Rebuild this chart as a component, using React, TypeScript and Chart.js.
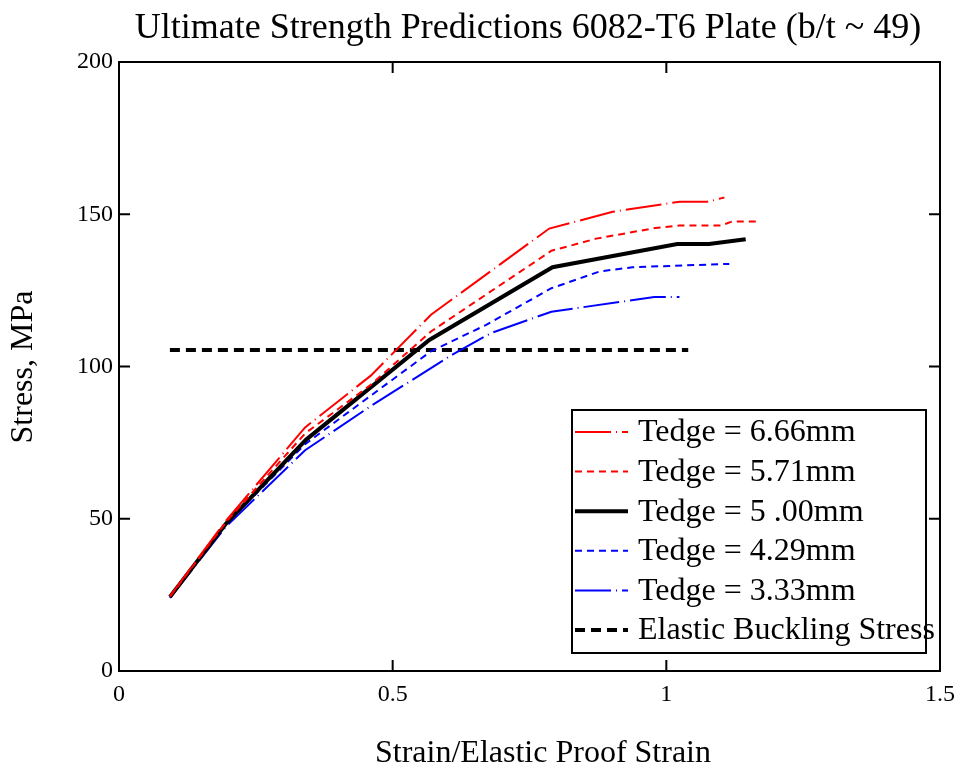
import React, { useEffect, useRef } from "react";
import { Chart, registerables } from "chart.js";
Chart.register(...registerables);

const titleText = "Ultimate Strength Predictions 6082-T6 Plate (b/t ~ 49)";
const xTitle = "Strain/Elastic Proof Strain";
const yTitle = "Stress, MPa";

const seriesLabels = [
  "Tedge = 6.66mm",
  "Tedge = 5.71mm",
  "Tedge = 5 .00mm",
  "Tedge = 4.29mm",
  "Tedge = 3.33mm",
  "Elastic Buckling Stress",
];

const x666 = [0.093, 0.196, 0.34, 0.46, 0.57, 0.786, 0.902, 1.024, 1.075, 1.106];
const y666 = [24.5, 49.5, 80, 97, 117, 145.3, 150.8, 154.1, 154.1, 155.5];

const x571 = [0.093, 0.196, 0.34, 0.46, 0.57, 0.79, 0.872, 0.98, 1.024, 1.1, 1.12, 1.164];
const y571 = [24.4, 49, 78, 94, 111.5, 138, 142, 145.5, 146.3, 146.3, 147.6, 147.6];

const x500 = [0.093, 0.196, 0.342, 0.567, 0.792, 1.02, 1.078, 1.145];
const y500 = [24.3, 48.5, 76, 108.7, 132.6, 140.2, 140.2, 141.8];

const x429 = [0.093, 0.196, 0.34, 0.57, 0.67, 0.79, 0.878, 0.938, 1.115];
const y429 = [24.2, 48.3, 74.5, 105, 113.6, 125.7, 131.2, 132.6, 133.7];

const x333 = [0.093, 0.196, 0.34, 0.46, 0.61, 0.68, 0.79, 0.978, 1.024];
const y333 = [24, 47.5, 72.5, 87, 104, 111, 118, 122.8, 122.8];

const xBuckle = [0.093, 1.04];
const yBuckle = [105.4, 105.4];

const xTicks = [0, 0.5, 1, 1.5];
const xTickLabels = ["0", "0.5", "1", "1.5"];
const yTicks = [0, 50, 100, 150, 200];
const yTickLabels = ["0", "50", "100", "150", "200"];

const pts = (xs: number[], ys: number[]) => xs.map((x, i) => ({ x, y: ys[i] }));

const SERIF = "'Liberation Serif', 'Times New Roman', serif";

const styles = [
  { color: "#ff0000", width: 2, dash: [36, 5, 1, 5] },
  { color: "#ff0000", width: 2, dash: [7, 5] },
  { color: "#000000", width: 4, dash: [] as number[] },
  { color: "#0000ff", width: 2, dash: [7, 5] },
  { color: "#0000ff", width: 2, dash: [36, 5, 1, 5] },
  { color: "#000000", width: 4, dash: [10, 6] },
];

const decorPlugin = {
  id: "decor",
  afterDraw(chart: any) {
    const ctx = chart.ctx as CanvasRenderingContext2D;
    const a = chart.chartArea;
    const xs = chart.scales.x;
    const ys = chart.scales.y;
    ctx.save();
    // frame
    ctx.strokeStyle = "#000";
    ctx.lineWidth = 2;
    ctx.setLineDash([]);
    ctx.strokeRect(a.left, a.top, a.right - a.left, a.bottom - a.top);
    // inward ticks
    const tl = 11;
    ctx.beginPath();
    xTicks.forEach((v) => {
      const px = xs.getPixelForValue(v);
      ctx.moveTo(px, a.bottom);
      ctx.lineTo(px, a.bottom - tl);
      ctx.moveTo(px, a.top);
      ctx.lineTo(px, a.top + tl);
    });
    yTicks.forEach((v) => {
      const py = ys.getPixelForValue(v);
      ctx.moveTo(a.left, py);
      ctx.lineTo(a.left + tl, py);
      ctx.moveTo(a.right, py);
      ctx.lineTo(a.right - tl, py);
    });
    ctx.stroke();

    // title
    ctx.fillStyle = "#000";
    ctx.textAlign = "center";
    ctx.textBaseline = "middle";
    ctx.font = `36px ${SERIF}`;
    ctx.fillText(titleText, 528, 29);
    // x title
    ctx.font = `32px ${SERIF}`;
    ctx.fillText(xTitle, 543, 754);
    // y title
    ctx.save();
    ctx.translate(24, 367);
    ctx.rotate(-Math.PI / 2);
    ctx.fillText(yTitle, 0, 0);
    ctx.restore();

    // legend
    const bx = 572, by = 410, bw = 354, bh = 243;
    ctx.fillStyle = "#fff";
    ctx.fillRect(bx, by, bw, bh);
    ctx.strokeStyle = "#000";
    ctx.lineWidth = 2;
    ctx.setLineDash([]);
    ctx.strokeRect(bx, by, bw, bh);
    ctx.font = `32px ${SERIF}`;
    ctx.textAlign = "left";
    ctx.textBaseline = "middle";
    seriesLabels.forEach((lab, i) => {
      const y = 432 + i * 39.6;
      const st = styles[i];
      ctx.strokeStyle = st.color;
      ctx.lineWidth = st.width;
      ctx.setLineDash(st.dash);
      ctx.beginPath();
      ctx.moveTo(575, y);
      ctx.lineTo(628, y);
      ctx.stroke();
      ctx.setLineDash([]);
      ctx.fillStyle = "#000";
      ctx.fillText(lab, 638, y + 1);
    });
    ctx.restore();
  },
};

export default function App() {
  const ref = useRef<HTMLCanvasElement>(null);
  useEffect(() => {
    if (!ref.current) return;
    const data = [
      pts(x666, y666),
      pts(x571, y571),
      pts(x500, y500),
      pts(x429, y429),
      pts(x333, y333),
      pts(xBuckle, yBuckle),
    ];
    const chart = new Chart(ref.current, {
      type: "line",
      data: {
        datasets: data.map((d, i) => ({
          label: seriesLabels[i],
          data: d,
          borderColor: styles[i].color,
          borderWidth: styles[i].width,
          borderDash: styles[i].dash,
          pointRadius: 0,
          tension: 0,
          fill: false,
          borderCapStyle: "butt" as const,
          borderJoinStyle: "miter" as const,
        })),
      },
      options: {
        animation: false,
        responsive: false,
        maintainAspectRatio: false,
        layout: { padding: { left: 0, right: 23, top: 62, bottom: 0 } },
        plugins: {
          legend: { display: false },
          title: { display: false },
          tooltip: { enabled: false },
        },
        scales: {
          x: {
            type: "linear",
            min: 0,
            max: 1.5,
            afterBuildTicks: (s: any) => {
              s.ticks = xTicks.map((v) => ({ value: v }));
            },
            afterFit: (s: any) => {
              s.height = 99;
            },
            grid: { display: false, drawTicks: false },
            border: { display: false },
            ticks: {
              padding: 9,
              color: "#000",
              maxRotation: 0,
              font: { family: SERIF, size: 24 },
              callback: (v: any) => {
                const i = xTicks.indexOf(Number(v));
                return i >= 0 ? xTickLabels[i] : "";
              },
            },
          },
          y: {
            type: "linear",
            min: 0,
            max: 200,
            afterBuildTicks: (s: any) => {
              s.ticks = yTicks.map((v) => ({ value: v }));
            },
            afterFit: (s: any) => {
              s.width = 119;
            },
            grid: { display: false, drawTicks: false },
            border: { display: false },
            ticks: {
              padding: 6,
              color: "#000",
              font: { family: SERIF, size: 24 },
              callback: (v: any) => {
                const i = yTicks.indexOf(Number(v));
                return i >= 0 ? yTickLabels[i] : "";
              },
            },
          },
        },
      },
      plugins: [decorPlugin],
    });
    return () => chart.destroy();
  }, []);
  return (
    <div style={{ position: "absolute", left: 0, top: 0, width: 964, height: 770, background: "#fff" }}>
      <canvas ref={ref} width={964} height={770} style={{ width: 964, height: 770, display: "block" }} />
    </div>
  );
}
